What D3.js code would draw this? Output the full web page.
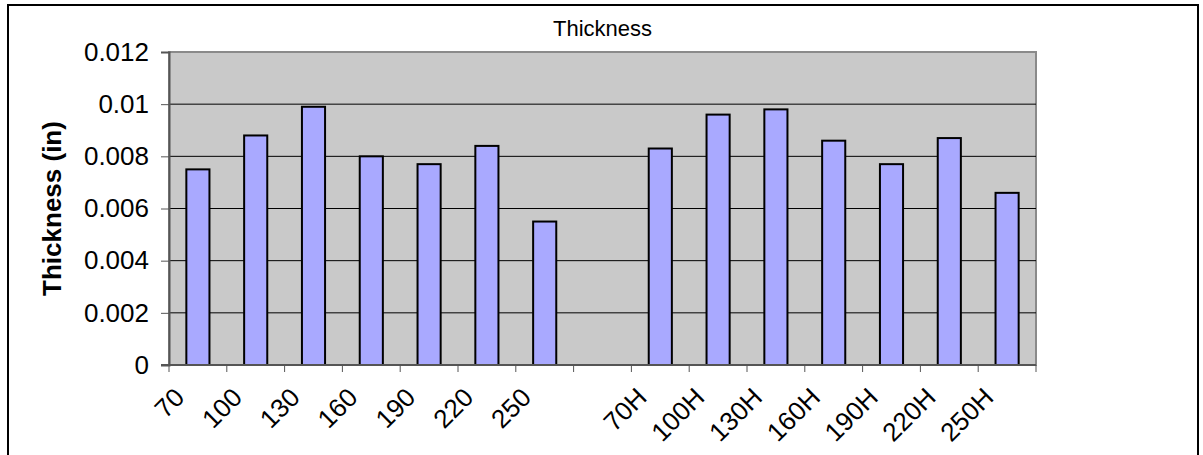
<!DOCTYPE html>
<html>
<head>
<meta charset="utf-8">
<script src="https://cdn.jsdelivr.net/npm/d3@7"></script>
<style>
    body { margin: 0; background: #fff; }
    text { font-family: Arial, "Liberation Sans", sans-serif; fill: #000; }
</style>
</head>
<body>
<script>
// categories (one empty slot between the two groups)
const categories = ["70", "100", "130", "160", "190", "220", "250", "",
    "70H", "100H", "130H", "160H", "190H", "220H", "250H"];
const thickness = [0.0075, 0.0088, 0.0099, 0.0080, 0.0077, 0.0084, 0.0055, null,
    0.0083, 0.0096, 0.0098, 0.0086, 0.0077, 0.0087, 0.0066];
const yTicks = [0, 0.002, 0.004, 0.006, 0.008, 0.01, 0.012];

const width = 1203;
const height = 455;
const margin = { top: 52, right: 167, bottom: 90, left: 169 };

const svg = d3.select("body").append("svg")
    .attr("width", width)
    .attr("height", height);

// outer chart border
svg.append("rect")
    .attr("x", 8).attr("y", 5)
    .attr("width", 1190).attr("height", 470)
    .style("fill", "none")
    .style("stroke", "#000")
    .style("stroke-width", "2px");

const plotW = width - margin.left - margin.right;
const plotH = height - margin.top - margin.bottom;

const g = svg.append("g")
    .attr("transform", `translate(${margin.left},${margin.top})`);

// scales
const x = d3.scaleBand()
    .domain(d3.range(categories.length))
    .range([0, plotW])
    .paddingInner(0.6)
    .paddingOuter(0.3);

const xTick = d3.scaleLinear()
    .domain([0, categories.length])
    .range([0, plotW]);

const y = d3.scaleLinear()
    .domain([0, 0.012])
    .range([plotH, 0]);

// plot background
g.append("rect")
    .attr("width", plotW)
    .attr("height", plotH)
    .style("fill", "#c9c9c9")
    .style("stroke", "#8a8a8a")
    .style("stroke-width", "2px");

// gridlines
g.selectAll(".grid")
    .data(yTicks.filter(d => d > 0 && d < 0.012))
    .enter().append("line")
    .attr("x1", 0).attr("x2", plotW)
    .attr("y1", d => y(d)).attr("y2", d => y(d))
    .style("stroke", "#000")
    .style("stroke-width", "1px");

// bars
g.selectAll(".bar")
    .data(thickness.map((v, i) => ({ i, v })).filter(d => d.v !== null))
    .enter().append("rect")
    .attr("class", "bar")
    .attr("x", d => x(d.i))
    .attr("width", x.bandwidth())
    .attr("y", d => y(d.v))
    .attr("height", d => plotH - y(d.v))
    .style("fill", "#a9a9ff")
    .style("stroke", "#000")
    .style("stroke-width", "2px");

// y axis
const yAxis = g.append("g")
    .call(d3.axisLeft(y).tickValues(yTicks).tickSize(8).tickPadding(12)
        .tickFormat(d => d3.format("")(+d.toFixed(3))));
yAxis.select(".domain").style("stroke", "#555").style("stroke-width", "2px");
yAxis.selectAll(".tick line").style("stroke", "#555");
yAxis.selectAll("text").style("font-size", "26px");

// x axis: ticks on category boundaries
const xAxis = g.append("g")
    .attr("transform", `translate(0,${plotH})`);
xAxis.append("line")
    .attr("x1", -8).attr("x2", plotW)
    .style("stroke", "#555").style("stroke-width", "2px");
xAxis.selectAll(".xt")
    .data(d3.range(categories.length + 1))
    .enter().append("line")
    .attr("x1", d => xTick(d)).attr("x2", d => xTick(d))
    .attr("y1", 0).attr("y2", 7)
    .style("stroke", "#555");
xAxis.selectAll(".xl")
    .data(categories)
    .enter().append("text")
    .attr("transform", (d, i) => `translate(${xTick(i + 0.5) - 12},${34}) rotate(-45)`)
    .attr("text-anchor", "end")
    .style("font-size", "26px")
    .text(d => d);

// y axis title
svg.append("text")
    .attr("transform", `translate(61,${margin.top + plotH / 2}) rotate(-90)`)
    .attr("text-anchor", "middle")
    .style("font-size", "26px")
    .style("font-weight", "bold")
    .text("Thickness (in)");

// chart title
svg.append("text")
    .attr("x", margin.left + plotW / 2)
    .attr("y", 36)
    .attr("text-anchor", "middle")
    .style("font-size", "22px")
    .text("Thickness");
</script>
</body>
</html>
